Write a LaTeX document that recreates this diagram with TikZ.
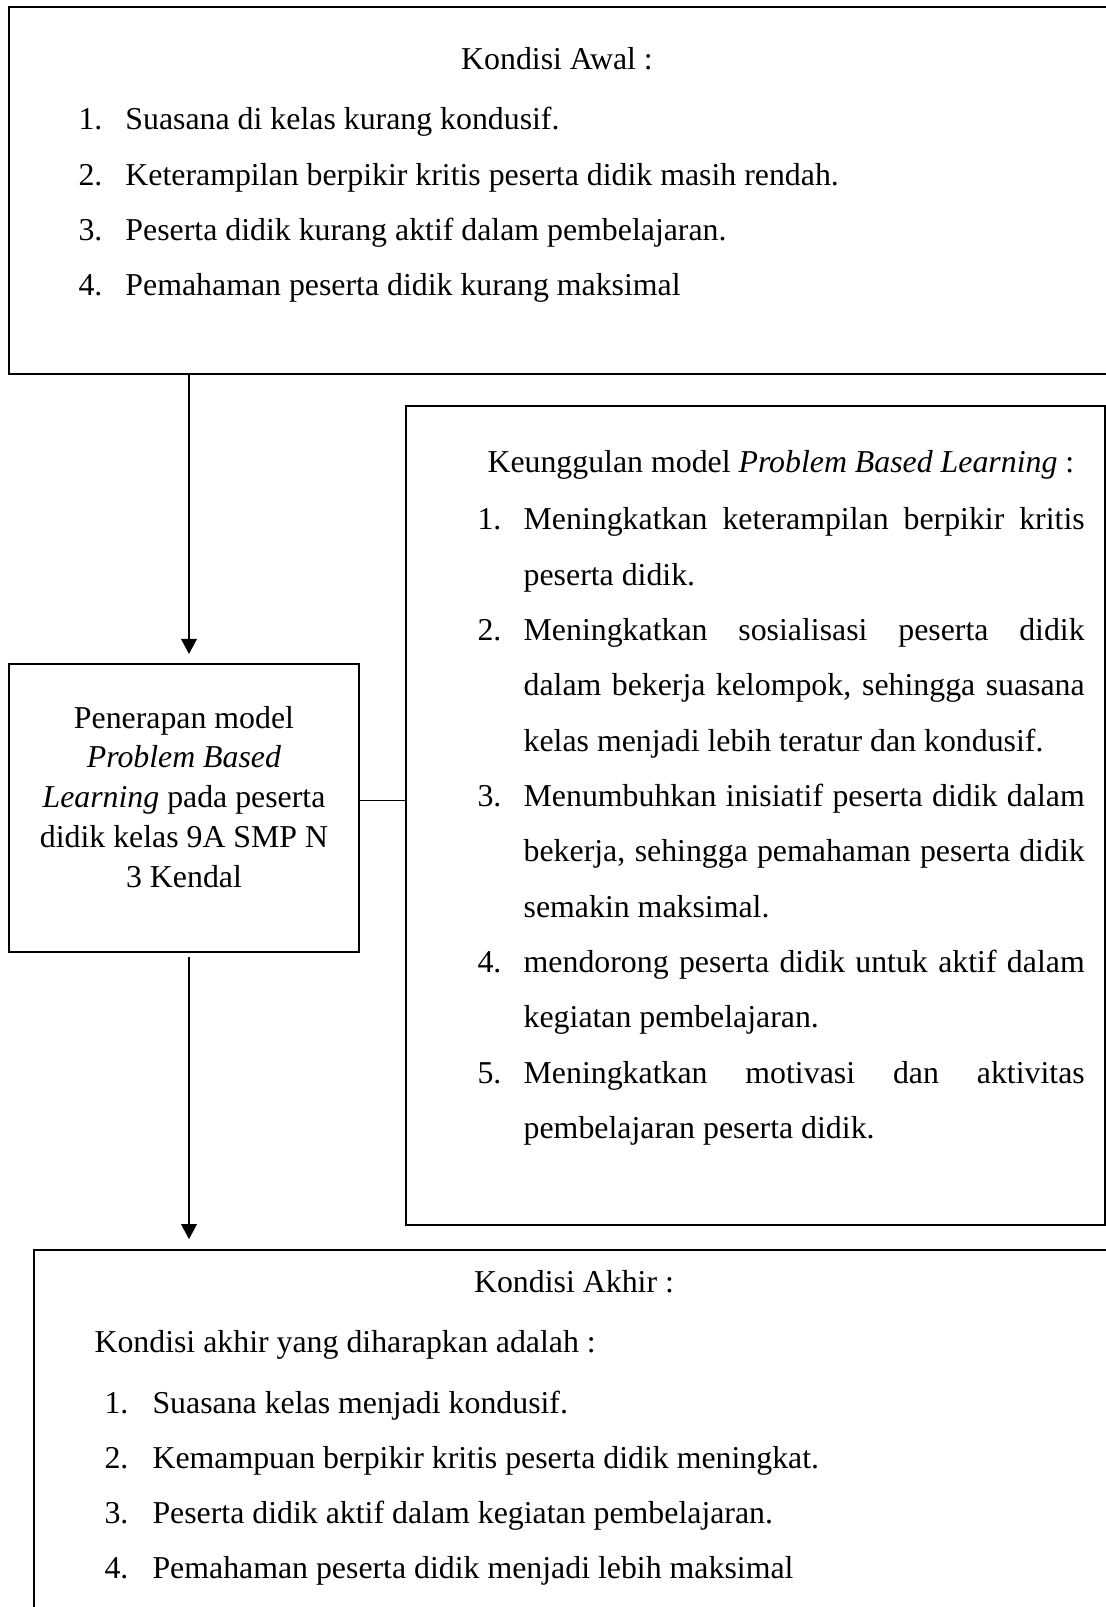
\documentclass[tikz,border=0pt]{standalone}
\usepackage{fontspec}
\setmainfont{Liberation Serif}
\usetikzlibrary{arrows.meta}

% baris rata kanan-kiri di kotak keunggulan
\newcommand{\rata}[1]{\makebox[211.5pt][s]{#1}}

\begin{document}
\begin{tikzpicture}[x=0.377pt, y=-0.377pt,
    font=\fontsize{12pt}{15pt}\selectfont,
    kotak/.style={rectangle, draw, line width=0.75pt, inner sep=0pt, outer sep=0pt, anchor=north west},
    teks/.style={inner sep=0pt, anchor=base west},
    daftar/.style={teks, execute at begin node={\renewcommand{\arraystretch}{1.39}}},
    panah/.style={line width=0.4pt, -{Triangle[length=5.7pt, width=6pt]}},
    garis/.style={line width=0.4pt}]
    \useasboundingbox (0,0) rectangle (1106,1607);
    \clip (0,0) rectangle (1106,1607);

    % Kotak
    \node[kotak, minimum width=449pt, minimum height=138.4pt] (awal) at (9,7) {};
    \node[kotak, minimum width=131.9pt, minimum height=108.6pt] (pbl) at (9,664) {};
    \node[kotak, minimum width=263.5pt, minimum height=308.8pt] (unggul) at (406,406) {};
    \node[kotak, minimum width=439.6pt, minimum height=169.7pt] (akhir) at (34,1250) {};

    % Kondisi awal
    \node[teks, anchor=base] (awaljudul) at (557,70) {Kondisi Awal :};
    \node[daftar] (awalisi) at (78,130) {\begin{tabular}[t]{@{}p{17.7pt}@{}l@{}}
        1. & Suasana di kelas kurang kondusif.\\
        2. & Keterampilan berpikir kritis peserta didik masih rendah.\\
        3. & Peserta didik kurang aktif dalam pembelajaran.\\
        4. & Pemahaman peserta didik kurang maksimal
    \end{tabular}};

    % Penerapan model
    \node[teks, anchor=base] (pblisi) at (184,728) {\begin{tabular}[t]{@{}c@{}}
        Penerapan model\\
        \textit{Problem Based}\\
        \textit{Learning} pada peserta\\
        didik kelas 9A SMP N\\
        3 Kendal
    \end{tabular}};

    % Keunggulan model
    \node[teks] (ungguljudul) at (487,473) {Keunggulan model \textit{Problem Based Learning} :};
    \node[daftar] (unggulisi) at (477,530) {\begin{tabular}[t]{@{}p{17.4pt}@{}l@{}}
        1. & \rata{Meningkatkan keterampilan berpikir kritis}\\
           & peserta didik.\\
        2. & \rata{Meningkatkan sosialisasi peserta didik}\\
           & \rata{dalam bekerja kelompok, sehingga suasana}\\
           & kelas menjadi lebih teratur dan kondusif.\\
        3. & \rata{Menumbuhkan inisiatif peserta didik dalam}\\
           & \rata{bekerja, sehingga pemahaman peserta didik}\\
           & semakin maksimal.\\
        4. & \rata{mendorong peserta didik untuk aktif dalam}\\
           & kegiatan pembelajaran.\\
        5. & \rata{Meningkatkan motivasi dan aktivitas}\\
           & pembelajaran peserta didik.
    \end{tabular}};

    % Kondisi akhir
    \node[teks, anchor=base] (akhirjudul) at (574,1292) {Kondisi Akhir :};
    \node[teks] (akhirpengantar) at (94,1352) {Kondisi akhir yang diharapkan adalah :};
    \node[daftar] (akhirisi) at (104,1413) {\begin{tabular}[t]{@{}p{18.1pt}@{}l@{}}
        1. & Suasana kelas menjadi kondusif.\\
        2. & Kemampuan berpikir kritis peserta didik meningkat.\\
        3. & Peserta didik aktif dalam kegiatan pembelajaran.\\
        4. & Pemahaman peserta didik menjadi lebih maksimal
    \end{tabular}};

    % Panah dan garis penghubung
    \coordinate (sumbu) at (189,0);
    \draw[panah, shorten >=3.8pt] (awal.south -| sumbu) -- (pbl.north -| sumbu);
    \draw[panah, shorten <=1.9pt, shorten >=4.1pt] (pbl.south -| sumbu) -- (akhir.north -| sumbu);
    \draw[garis] ([yshift=3pt]pbl.east) -- ([yshift=3pt]pbl.east -| unggul.west);
\end{tikzpicture}
\end{document}
